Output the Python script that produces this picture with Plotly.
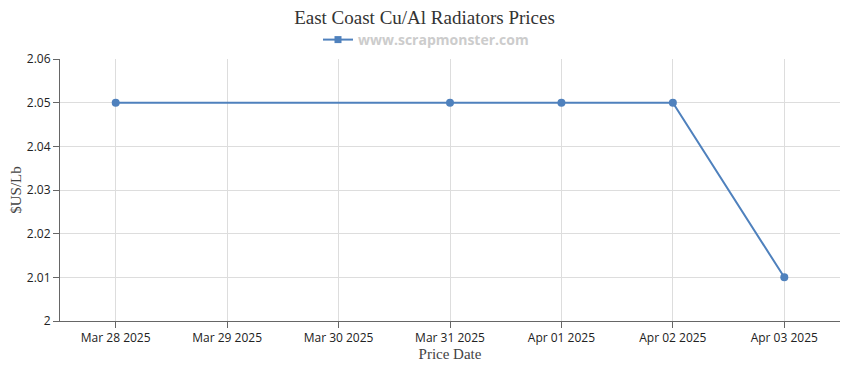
import plotly.graph_objects as go

dates = ["2025-03-28", "2025-03-31", "2025-04-01", "2025-04-02", "2025-04-03"]
prices = [2.05, 2.05, 2.05, 2.05, 2.01]
tick_dates = ["2025-03-28", "2025-03-29", "2025-03-30", "2025-03-31", "2025-04-01", "2025-04-02", "2025-04-03"]
tick_labels = ["Mar 28 2025", "Mar 29 2025", "Mar 30 2025", "Mar 31 2025", "Apr 01 2025", "Apr 02 2025", "Apr 03 2025"]
y_ticks = [2, 2.01, 2.02, 2.03, 2.04, 2.05, 2.06]
y_labels = ["2", "2.01", "2.02", "2.03", "2.04", "2.05", "2.06"]
series_name = "www.scrapmonster.com"

color = "#4f81bd"
tick_font = dict(family="Segoe UI, Open Sans, sans-serif", size=12, color="#222222")
serif = "Liberation Serif, Times New Roman, serif"

fig = go.Figure()
fig.add_trace(go.Scatter(
    x=dates, y=prices, mode="lines+markers",
    name=series_name, showlegend=False,
    line=dict(color=color, width=2),
    marker=dict(color=color, size=8, symbol="circle"),
))
# legend entry (square marker as in the reference legend)
fig.add_trace(go.Scatter(
    x=[None], y=[None], mode="lines+markers",
    name="<b>" + series_name + "</b>",
    line=dict(color=color, width=2),
    marker=dict(color=color, size=7, symbol="square"),
))

fig.update_layout(
    width=850, height=370,
    margin=dict(l=52, r=18, t=51, b=57, autoexpand=False),
    paper_bgcolor="white", plot_bgcolor="white",
    title=dict(text="East Coast Cu/Al Radiators Prices", x=416.5 / 850, xanchor="center",
               y=1 - 9 / 370, yanchor="middle",
               font=dict(family=serif, size=19, color="#333333")),
    showlegend=True,
    legend=dict(orientation="h", x=(426 - 60) / 780, xanchor="center", y=1 + 19 / 262, yanchor="middle",
                font=dict(family="Open Sans, Verdana, sans-serif", size=14, color="#cccccc"),
                itemwidth=30, bgcolor="rgba(0,0,0,0)"),
)

fig.update_xaxes(
    type="date", automargin=False,
    range=["2025-03-27 12:00", "2025-04-03 12:00"],
    tickvals=tick_dates, ticktext=tick_labels,
    showgrid=True, gridcolor="#dddddd", gridwidth=1,
    showline=True, linecolor="#666666", linewidth=1,
    ticks="outside", tickcolor="#666666", ticklen=6,
    tickfont=tick_font,
    title=dict(text="Price Date", standoff=2,
               font=dict(family=serif, size=15, color="#444444")),
    zeroline=False,
)
fig.update_yaxes(
    automargin=False,
    range=[2, 2.06],
    tickvals=y_ticks, ticktext=y_labels,
    showgrid=True, gridcolor="#dddddd", gridwidth=1,
    showline=True, linecolor="#666666", linewidth=1,
    ticks="outside", tickcolor="#666666", ticklen=6,
    tickfont=tick_font,
    title=dict(text="$US/Lb", standoff=4,
               font=dict(family=serif, size=15, color="#444444")),
    zeroline=False,
)

fig.write_html("out.html")
